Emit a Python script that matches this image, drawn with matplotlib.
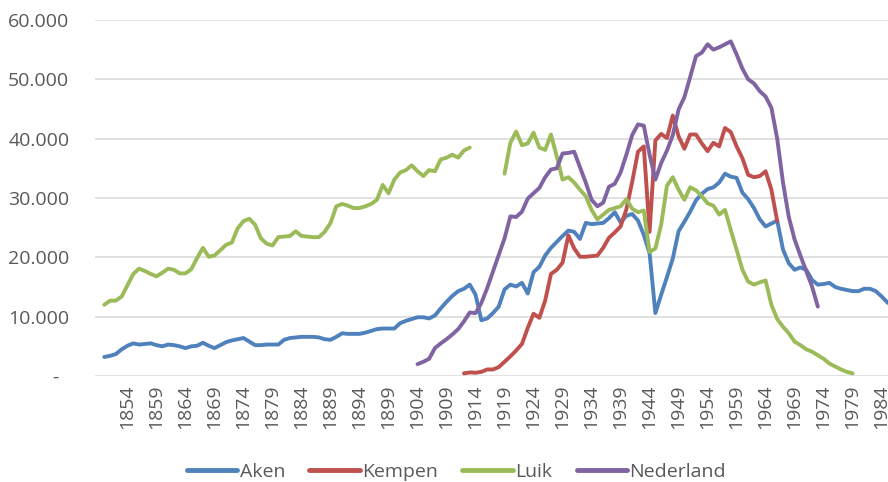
import numpy as np
import matplotlib
matplotlib.use("Agg")
import matplotlib.pyplot as plt

nan = np.nan

# years 1850..1986, one value per year (nan = no data)
years = np.arange(1850, 1987)

aken = [
    3200, 3400, 3700, 4500, 5100, 5500, 5300, 5400, 5500, 5200,      # 1850-59
    5000, 5300, 5200, 5000, 4700, 5000, 5100, 5600, 5100, 4700,      # 1860-69
    5200, 5700, 6000, 6200, 6400, 5800, 5200, 5200, 5300, 5300,      # 1870-79
    5300, 6100, 6400, 6500, 6600, 6600, 6600, 6500, 6200, 6100,      # 1880-89
    6600, 7200, 7100, 7100, 7100, 7300, 7600, 7900, 8000, 8000,      # 1890-99
    8000, 8900, 9300, 9600, 9900, 9900, 9700, 10200, 11400, 12500,   # 1900-09
    13500, 14300, 14700, 15400, 13700, 9400, 9700, 10600, 11700, 14600,  # 1910-19
    15400, 15100, 15700, 13900, 17500, 18400, 20300, 21600, 22600, 23600,  # 1920-29
    24500, 24300, 23100, 25800, 25600, 25700, 25800, 26600, 27600, 25900,  # 1930-39
    27000, 27300, 26200, 23800, 20700, 10600, 13700, 16700, 19800, 24400,  # 1940-49
    26000, 27700, 29600, 30700, 31500, 31800, 32600, 34100, 33600, 33400,  # 1950-59
    30900, 29800, 28300, 26400, 25200, 25700, 26200, 21300, 19000, 17900,  # 1960-69
    18300, 17900, 16200, 15400, 15500, 15700, 15000, 14700, 14500, 14300,  # 1970-79
    14300, 14700, 14700, 14300, 13400, 12400, 11800,                      # 1980-86
]

kempen = [nan] * 62 + [
    450, 600, 550, 700, 1100, 1100, 1500, 2400,                           # 1912-19
    3300, 4300, 5400, 8100, 10500, 9800, 12700, 17200, 17900, 19100,      # 1920-29
    23700, 21500, 20100, 20100, 20200, 20300, 21600, 23300, 24200, 25200,  # 1930-39
    28100, 32700, 37800, 38700, 24300, 39700, 40800, 40100, 43900, 40400,  # 1940-49
    38300, 40700, 40700, 39200, 37900, 39300, 38700, 41800, 41100, 38700,  # 1950-59
    36700, 33900, 33500, 33700, 34500, 31400, 26100,                      # 1960-66
] + [nan] * 20

luik = [
    12000, 12700, 12700, 13400, 15300, 17200, 18100, 17700, 17200, 16800,  # 1850-59
    17400, 18100, 17900, 17300, 17300, 18000, 19900, 21600, 20100, 20300,  # 1860-69
    21200, 22100, 22500, 24900, 26100, 26500, 25500, 23200, 22300, 22000,  # 1870-79
    23400, 23500, 23600, 24400, 23600, 23500, 23400, 23400, 24300, 25800,  # 1880-89
    28600, 29000, 28700, 28300, 28300, 28600, 29000, 29700, 32200, 30800,  # 1890-99
    33100, 34300, 34700, 35500, 34500, 33700, 34700, 34500, 36500, 36800,  # 1900-09
    37300, 36800, 38000, 38500, nan, nan, nan, nan, nan, 34100,            # 1910-19
    39300, 41200, 38900, 39200, 41000, 38500, 38100, 40700, 37000, 33100,  # 1920-29
    33500, 32600, 31400, 30300, 28000, 26400, 27200, 28000, 28300, 28600,  # 1930-39
    29800, 28200, 27600, 27900, 20900, 21500, 25500, 32100, 33500, 31400,  # 1940-49
    29700, 31800, 31300, 30300, 29100, 28700, 27200, 28000, 24600, 21300,  # 1950-59
    17900, 15900, 15400, 15800, 16100, 12000, 9600, 8300, 7200, 5800,      # 1960-69
    5200, 4500, 4100, 3500, 2900, 2100, 1600, 1100, 700, 450,              # 1970-79
] + [nan] * 7

nederland = [nan] * 54 + [
    2000, 2400, 2900, 4700, 5500, 6200,                                   # 1904-09
    7000, 7900, 9200, 10700, 10600, 12300, 14800, 17600, 20400, 23200,    # 1910-19
    26900, 26800, 27700, 29900, 30800, 31700, 33500, 34800, 35000, 37500,  # 1920-29
    37600, 37800, 35200, 32600, 29700, 28600, 29200, 31900, 32400, 34300,  # 1930-39
    37300, 40600, 42400, 42200, 37300, 33100, 35900, 38000, 40600, 44900,  # 1940-49
    47000, 50400, 53900, 54500, 55900, 55000, 55400, 55900, 56400, 54200,  # 1950-59
    51800, 50000, 49300, 48000, 47100, 45200, 40000, 32600, 26800, 23000,  # 1960-69
    20300, 17700, 15100, 11700,                                           # 1970-73
] + [nan] * 13

series = [
    ("Aken", aken, "#4F81BD"),
    ("Kempen", kempen, "#C0504D"),
    ("Luik", luik, "#9BBB59"),
    ("Nederland", nederland, "#8064A2"),
]

y_ticks = [0, 10000, 20000, 30000, 40000, 50000, 60000]
y_labels = ["-  ", "10.000", "20.000", "30.000", "40.000", "50.000", "60.000"]
x_ticks = list(range(1854, 1985, 5))

plt.rcParams["font.family"] = ["Open Sans", "DejaVu Sans"]
text_col = "#595959"

fig = plt.figure(figsize=(8.88, 4.82), dpi=100)
ax = fig.add_axes([95 / 888, 1 - 376 / 482, 793 / 888, 356 / 482])

for name, vals, col in series:
    ax.plot(years, np.array(vals, dtype=float), color=col, lw=2.8,
            solid_capstyle="round", solid_joinstyle="round", label=name, zorder=3)

ax.set_xlim(1848.4, 1985.1)
ax.set_ylim(0, 60000)
ax.set_yticks(y_ticks)
ax.set_yticklabels(y_labels)
ax.set_xticks(x_ticks)
ax.set_xticklabels([str(y) for y in x_ticks], rotation=90)
ax.tick_params(axis="both", length=0, labelsize=14, colors=text_col)
ax.tick_params(axis="y", pad=18.5)
ax.tick_params(axis="x", pad=6)

ax.grid(axis="y", color="#D9D9D9", lw=1.1, zorder=0)
ax.set_axisbelow(True)
for s in ax.spines.values():
    s.set_visible(False)

leg = fig.legend(*ax.get_legend_handles_labels(), loc="center",
                 bbox_to_anchor=(0.514, 1 - 472 / 482), ncol=4, frameon=False,
                 fontsize=14, handlelength=2.6, handletextpad=0.12,
                 columnspacing=1.25, borderaxespad=0)
for t in leg.get_texts():
    t.set_color(text_col)
for h in leg.legend_handles:
    h.set_linewidth(3.5)

fig.savefig("out.png", dpi=100)
